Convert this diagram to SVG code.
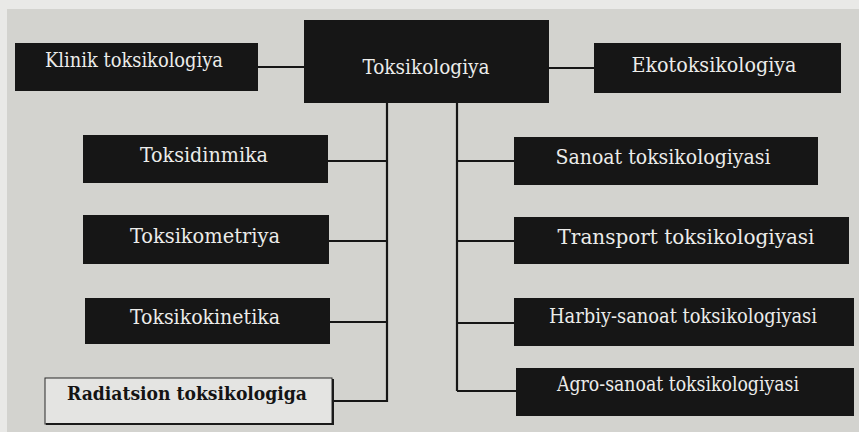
<svg xmlns="http://www.w3.org/2000/svg" width="859" height="432" viewBox="0 0 859 432">
<style>
.box{fill:#161616}
.t{font-family:"DejaVu Serif Condensed","DejaVu Serif","Liberation Serif",serif;font-stretch:condensed;font-size:20px;fill:#ececea;text-anchor:middle}
.tb{font-family:"DejaVu Serif","Liberation Serif",serif;font-size:19px;font-weight:900;fill:#141414;text-anchor:middle}
.c{stroke:#161616;stroke-width:2.2;fill:none}
</style>
<rect x="0" y="0" width="859" height="432" fill="#e9e9e7"/>
<rect x="7" y="9" width="852" height="423" fill="#d3d3cf"/>
<g id="connectors">
<path class="c" d="M257 67H304M548 68H594"/>
<path class="c" d="M387 103V402M457 103V391"/>
<path class="c" d="M328 161H387M329 241H387M330 322H387M332 401H387"/>
<path class="c" d="M457 161H514M457 241H514M457 323H514M457 391H516"/>
</g>
<g id="toksikologiya">
<rect class="box" x="304" y="20" width="245" height="83"/>
<text class="t" x="426" y="74" textLength="127" lengthAdjust="spacingAndGlyphs">Toksikologiya</text>
</g>
<g id="klinik">
<rect class="box" x="15" y="43" width="243" height="48"/>
<text class="t" x="134" y="67" font-size="17" textLength="178" lengthAdjust="spacingAndGlyphs">Klinik toksikologiya</text>
</g>
<g id="eko">
<rect class="box" x="594" y="43" width="247" height="50"/>
<text class="t" x="714" y="72" textLength="165" lengthAdjust="spacingAndGlyphs">Ekotoksikologiya</text>
</g>
<g id="toksidinmika">
<rect class="box" x="83" y="135" width="245" height="48"/>
<text class="t" x="204" y="162" textLength="128" lengthAdjust="spacingAndGlyphs">Toksidinmika</text>
</g>
<g id="toksikometriya">
<rect class="box" x="83" y="215" width="246" height="49"/>
<text class="t" x="205" y="243" textLength="150" lengthAdjust="spacingAndGlyphs">Toksikometriya</text>
</g>
<g id="toksikokinetika">
<rect class="box" x="85" y="298" width="245" height="46"/>
<text class="t" x="205" y="324" textLength="150" lengthAdjust="spacingAndGlyphs">Toksikokinetika</text>
</g>
<g id="radiatsion">
<rect x="45" y="378" width="287" height="46" fill="#e4e4e2" stroke="#2a2a2a" stroke-width="1"/>
<path d="M46 424H333V379" fill="none" stroke="#1a1a1a" stroke-width="2"/>
<text class="tb" x="187" y="400" textLength="240" lengthAdjust="spacingAndGlyphs">Radiatsion toksikologiga</text>
</g>
<g id="sanoat">
<rect class="box" x="514" y="137" width="304" height="48"/>
<text class="t" x="663" y="164" textLength="215" lengthAdjust="spacingAndGlyphs">Sanoat toksikologiyasi</text>
</g>
<g id="transport">
<rect class="box" x="514" y="217" width="335" height="47"/>
<text class="t" x="686" y="244" textLength="257" lengthAdjust="spacingAndGlyphs">Transport toksikologiyasi</text>
</g>
<g id="harbiy">
<rect class="box" x="514" y="298" width="340" height="48"/>
<text class="t" x="683" y="323" textLength="268" lengthAdjust="spacingAndGlyphs">Harbiy-sanoat toksikologiyasi</text>
</g>
<g id="agro">
<rect class="box" x="516" y="368" width="338" height="48"/>
<text class="t" x="678" y="391" textLength="242" lengthAdjust="spacingAndGlyphs">Agro-sanoat toksikologiyasi</text>
</g>
</svg>
